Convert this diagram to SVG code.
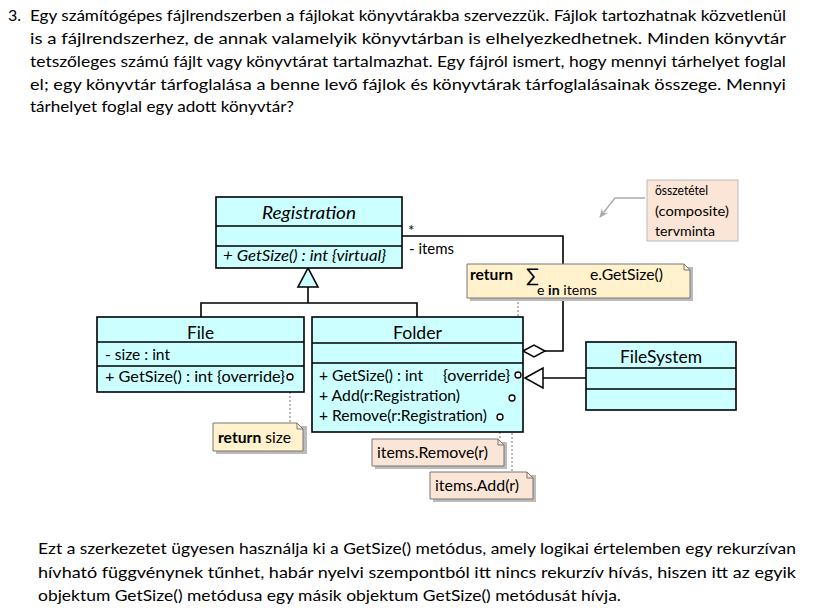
<svg xmlns="http://www.w3.org/2000/svg" width="822" height="615" viewBox="0 0 822 615">
<defs>
<style>
.p{font-family:Lato,"Liberation Sans",sans-serif;font-size:16px;fill:#000}
.d{font-family:Lato,"Liberation Sans",sans-serif;fill:#000}
.m{font-size:16px}
.t{font-size:18px}
.cls{fill:#CCFFFF;stroke:#000;stroke-width:1.6}
.div{stroke:#000;stroke-width:1.6}
.ln{fill:none;stroke:#000;stroke-width:1.6}
.dot{fill:none;stroke:#777;stroke-width:1;stroke-dasharray:2 2}
.pin{fill:#fff;stroke:#000;stroke-width:1.3}
.ny{fill:#FFF2CC;stroke:#777;stroke-width:1}
.np{fill:#FBE5D6;stroke:#777;stroke-width:1}
.sh{fill:#bbb}
</style>
<marker id="ga" markerWidth="10" markerHeight="10" refX="8" refY="5" orient="auto" markerUnits="userSpaceOnUse">
<path d="M0,1 L9,5 L0,9 L3,5 Z" fill="#aaa"/>
</marker>
</defs>

<rect width="822" height="615" fill="#fff"/>

<g id="question">
<text class="p" x="8" y="21">3.</text>
<text class="p" x="30" y="21" textLength="756" lengthAdjust="spacingAndGlyphs">Egy számítógépes fájlrendszerben a fájlokat könyvtárakba szervezzük. Fájlok tartozhatnak közvetlenül</text>
<text class="p" x="30" y="44" textLength="756" lengthAdjust="spacingAndGlyphs">is a fájlrendszerhez, de annak valamelyik könyvtárban is elhelyezkedhetnek. Minden könyvtár</text>
<text class="p" x="30" y="67" textLength="756" lengthAdjust="spacingAndGlyphs">tetszőleges számú fájlt vagy könyvtárat tartalmazhat. Egy fájról ismert, hogy mennyi tárhelyet foglal</text>
<text class="p" x="30" y="90" textLength="756" lengthAdjust="spacingAndGlyphs">el; egy könyvtár tárfoglalása a benne levő fájlok és könyvtárak tárfoglalásainak összege. Mennyi</text>
<text class="p" x="30" y="112" textLength="264" lengthAdjust="spacingAndGlyphs">tárhelyet foglal egy adott könyvtár?</text>
</g>

<g id="connectors">
<polyline class="ln" points="201,317 201,303 417,303 417,317"/>
<line class="ln" x1="308" y1="303" x2="308" y2="287"/>
<polygon points="308,268 298,287 318,287" fill="#CCFFFF" stroke="#000" stroke-width="1.6"/>
<polyline class="ln" points="402,236 563,236 563,351 545,351"/>
<polygon points="523,351 534,345 545,351 534,357" fill="#fff" stroke="#000" stroke-width="1.5"/>
<line class="ln" x1="543" y1="378" x2="586" y2="378"/>
<polygon points="525,378 543,368 543,388" fill="#fff" stroke="#000" stroke-width="1.5"/>
<line class="dot" x1="290" y1="380" x2="290" y2="423"/>
<line class="dot" x1="518" y1="298" x2="518" y2="372"/>
<line class="dot" x1="500" y1="420" x2="500" y2="439"/>
<line class="dot" x1="512" y1="401" x2="512" y2="472"/>
<polyline points="645,198 615,198 600,217" fill="none" stroke="#aaa" stroke-width="1.3" marker-end="url(#ga)"/>
</g>

<g id="registration">
<rect class="cls" x="216" y="197" width="186" height="71"/>
<line class="div" x1="216" y1="226" x2="402" y2="226"/>
<line class="div" x1="216" y1="246" x2="402" y2="246"/>
<text class="d t" x="262" y="219" font-style="italic" textLength="94" lengthAdjust="spacingAndGlyphs">Registration</text>
<text class="d m" x="223" y="261" font-style="italic" textLength="163" lengthAdjust="spacingAndGlyphs">+ GetSize() : int {virtual}</text>
<text class="d" x="408" y="236" font-size="15">*</text>
<text class="d m" x="409" y="254" textLength="45" lengthAdjust="spacingAndGlyphs">- items</text>
</g>

<g id="file">
<rect class="cls" x="97" y="317" width="207" height="75"/>
<line class="div" x1="97" y1="342" x2="304" y2="342"/>
<line class="div" x1="97" y1="366" x2="304" y2="366"/>
<text class="d t" x="187" y="339" textLength="27" lengthAdjust="spacingAndGlyphs">File</text>
<text class="d m" x="105" y="360" textLength="65" lengthAdjust="spacingAndGlyphs">- size : int</text>
<text class="d m" x="105" y="382" textLength="180" lengthAdjust="spacingAndGlyphs">+ GetSize() : int  {override}</text>
<circle class="pin" cx="290" cy="377" r="3"/>
</g>

<g id="folder">
<rect class="cls" x="312" y="317" width="211" height="115"/>
<line class="div" x1="312" y1="343" x2="523" y2="343"/>
<line class="div" x1="312" y1="363" x2="523" y2="363"/>
<text class="d t" x="393" y="339" textLength="49" lengthAdjust="spacingAndGlyphs">Folder</text>
<text class="d m" x="319" y="381" textLength="104" lengthAdjust="spacingAndGlyphs">+ GetSize() : int</text>
<text class="d m" x="443" y="381" textLength="67" lengthAdjust="spacingAndGlyphs">{override}</text>
<text class="d m" x="319" y="401" textLength="141" lengthAdjust="spacingAndGlyphs">+ Add(r:Registration)</text>
<text class="d m" x="319" y="421" textLength="168" lengthAdjust="spacingAndGlyphs">+ Remove(r:Registration)</text>
<circle class="pin" cx="518" cy="375" r="3"/>
<circle class="pin" cx="512" cy="398" r="3"/>
<circle class="pin" cx="500" cy="417" r="3"/>
</g>

<g id="filesystem">
<rect class="cls" x="586" y="342" width="150" height="68"/>
<line class="div" x1="586" y1="368" x2="736" y2="368"/>
<line class="div" x1="586" y1="389" x2="736" y2="389"/>
<text class="d t" x="620" y="363" textLength="82" lengthAdjust="spacingAndGlyphs">FileSystem</text>
</g>

<g id="note-sum">
<path class="sh" d="M470,267 H693 V301 H470 Z"/>
<path class="ny" d="M467,264 H684 L690,270 V298 H467 Z"/>
<path d="M684,264 V270 H690" fill="none" stroke="#777" stroke-width="1"/>
<text class="d m" x="470" y="280" font-weight="bold" textLength="43" lengthAdjust="spacingAndGlyphs">return</text>
<text class="d" x="526" y="282" font-size="19">∑</text>
<text class="d m" x="590" y="280" textLength="73" lengthAdjust="spacingAndGlyphs">e.GetSize()</text>
<text class="d" x="537" y="295" font-size="14" textLength="60" lengthAdjust="spacingAndGlyphs">e <tspan font-weight="bold">in</tspan> items</text>
</g>

<g id="note-size">
<path class="sh" d="M216,426 H307 V454 H216 Z"/>
<path class="ny" d="M213,423 H297 L303,429 V451 H213 Z"/>
<path d="M297,423 V429 H303" fill="none" stroke="#777" stroke-width="1"/>
<text class="d m" x="218" y="443" textLength="73" lengthAdjust="spacingAndGlyphs"><tspan font-weight="bold">return</tspan> size</text>
</g>

<g id="note-remove">
<path class="sh" d="M375,442 H507 V469 H375 Z"/>
<path class="np" d="M372,439 H498 L504,445 V466 H372 Z"/>
<path d="M498,439 V445 H504" fill="none" stroke="#777" stroke-width="1"/>
<text class="d m" x="377" y="458" textLength="111" lengthAdjust="spacingAndGlyphs">items.Remove(r)</text>
</g>

<g id="note-add">
<path class="sh" d="M433,475 H536 V502 H433 Z"/>
<path class="np" d="M430,472 H527 L533,478 V499 H430 Z"/>
<path d="M527,472 V478 H533" fill="none" stroke="#777" stroke-width="1"/>
<text class="d m" x="435" y="491" textLength="84" lengthAdjust="spacingAndGlyphs">items.Add(r)</text>
</g>

<g id="note-composite">
<rect x="647" y="180" width="91" height="61" fill="#FBE5D6" stroke="#bbb" stroke-width="1"/>
<text class="d" x="655" y="195" font-size="14" textLength="53" lengthAdjust="spacingAndGlyphs">összetétel</text>
<text class="d" x="655" y="216" font-size="14" textLength="74" lengthAdjust="spacingAndGlyphs">(composite)</text>
<text class="d" x="655" y="236" font-size="14" textLength="60" lengthAdjust="spacingAndGlyphs">tervminta</text>
</g>

<g id="explanation">
<text class="p" x="38" y="554" textLength="758" lengthAdjust="spacingAndGlyphs">Ezt a szerkezetet ügyesen használja ki a GetSize() metódus, amely logikai értelemben egy rekurzívan</text>
<text class="p" x="38" y="578" textLength="758" lengthAdjust="spacingAndGlyphs">hívható függvénynek tűnhet, habár nyelvi szempontból itt nincs rekurzív hívás, hiszen itt az egyik</text>
<text class="p" x="38" y="601" textLength="583" lengthAdjust="spacingAndGlyphs">objektum GetSize() metódusa egy másik objektum GetSize() metódusát hívja.</text>
</g>
</svg>
